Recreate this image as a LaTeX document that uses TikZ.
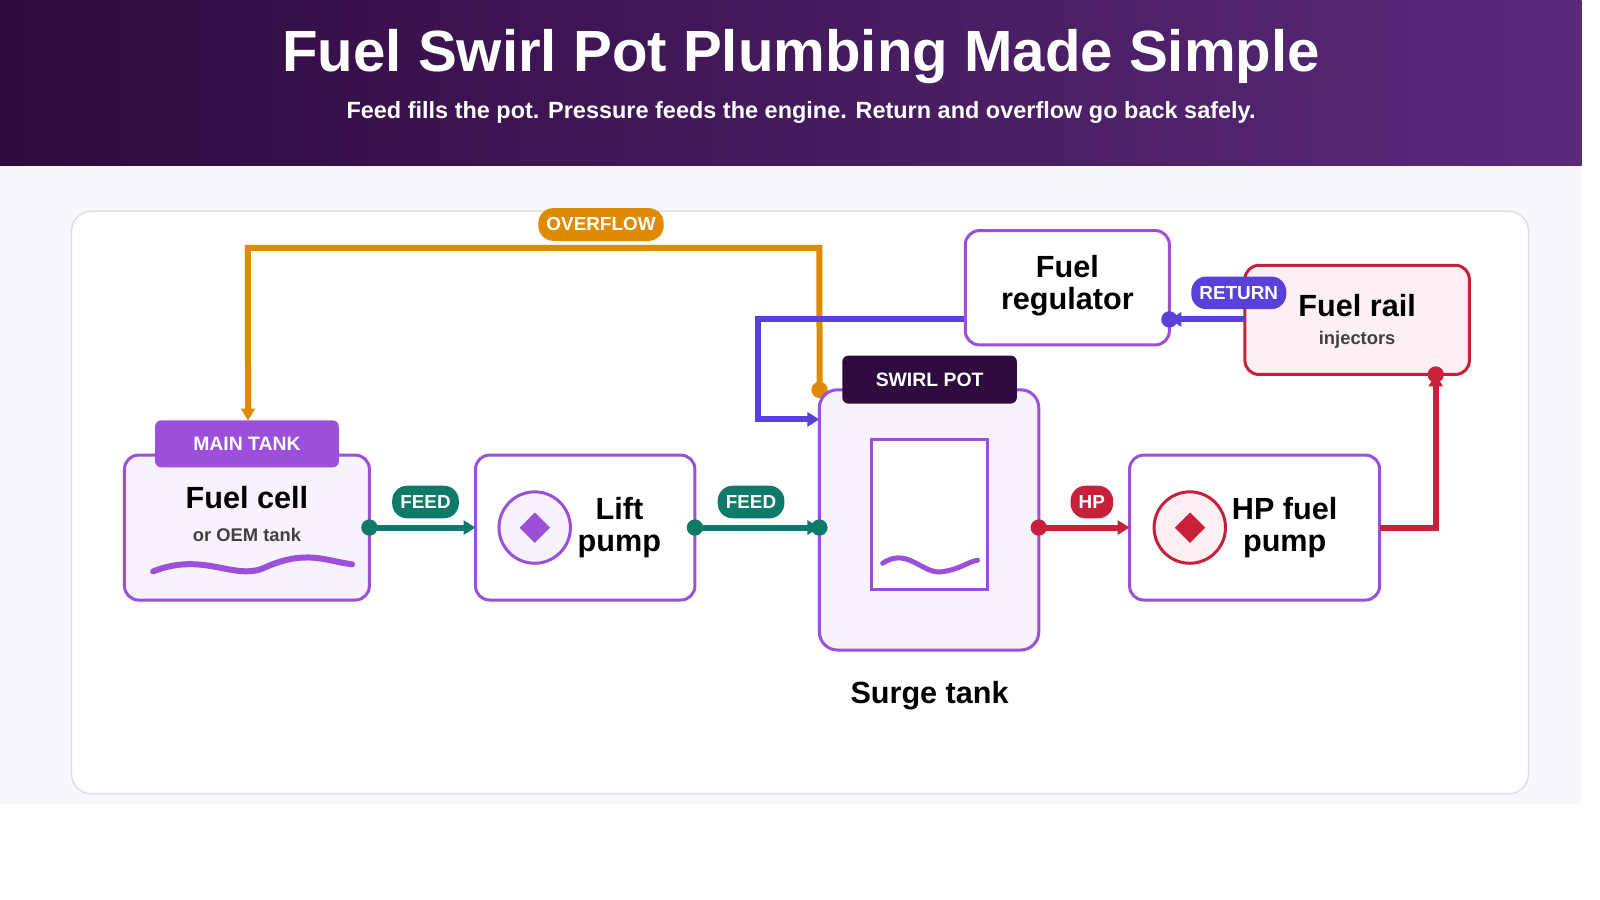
\documentclass[tikz,border=0pt]{standalone}
\usepackage{fontspec}
\setmainfont{Liberation Sans}
\usetikzlibrary{arrows.meta,shapes.geometric}
\definecolor{dpurp}{HTML}{2E0A3E}
\definecolor{rpurp}{HTML}{5A2A7A}
\definecolor{purp}{HTML}{9B4FDB}
\definecolor{lpurp}{HTML}{F7F2FD}
\definecolor{teal}{HTML}{0F7A6A}
\definecolor{hred}{HTML}{C8203A}
\definecolor{lred}{HTML}{FDF0F2}
\definecolor{blu}{HTML}{5B3FD9}
\definecolor{ora}{HTML}{E08A00}
\definecolor{bg}{HTML}{F8F7FB}
\begin{document}
\begin{tikzpicture}[x=1pt,y=-1pt,scale=1.0204,every node/.style={transform shape},
 box/.style={draw=purp,line width=3pt,rounded corners=14pt,fill=white},
 tag/.style={rounded corners=6pt,text=white,font=\bfseries\fontsize{19}{19}\selectfont,inner sep=0pt},
 pill/.style={rounded corners=15pt,text=white,font=\bfseries\fontsize{18.5}{18.5}\selectfont,minimum height=32pt,inner xsep=8pt,inner ysep=0pt},
 big/.style={font=\bfseries\fontsize{30}{32}\selectfont,align=center,text=black},
 small/.style={font=\bfseries\fontsize{18}{18}\selectfont,text=black!75},
 pipe/.style={line width=6pt},
 dot/.style={circle,inner sep=0pt,minimum size=16pt}]
\useasboundingbox (0,0) rectangle (1568,882);
\fill[white] (0,0) rectangle (1568,882);
\fill[bg] (0,162) rectangle (1550,788);
\shade[left color=dpurp,right color=rpurp] (0,0) rectangle (1550,162);
\node[text=white,font=\bfseries\fontsize{57}{57}\selectfont] (title) at (785,55) {Fuel Swirl Pot Plumbing Made Simple};
\node[text=white,font=\bfseries\fontsize{23}{23}\selectfont] (sub) at (785,110) {Feed fills the pot. Pressure feeds the engine. Return and overflow go back safely.};
\draw[black!12,line width=1.5pt,fill=white,rounded corners=20pt] (70,207) rectangle (1498,778);
\coordinate (ovs) at (803,382);
\coordinate (ove) at (243,412);
\draw[ora,pipe,-{Triangle[length=12pt,width=14pt]}] (ovs) -- (803,243) -- (243,243) -- (ove);
\node[dot,fill=ora] at (ovs) {};
\node[pill,fill=ora] (ovl) at (589,220) {OVERFLOW};
\draw[blu,pipe,-{Triangle[length=12pt,width=14pt]}] (946,313) -- (743,313) -- (743,411) -- (803,411);
\draw[box,fill=lpurp] (122,446) rectangle (362,588);
\node[tag,fill=purp,minimum width=180pt,minimum height=46pt] (mt) at (242,435) {MAIN TANK};
\node[big] (fc) at (242,488) {Fuel cell};
\node[small] (oem) at (242,524) {or OEM tank};
\draw[purp,line width=6pt,line cap=round] (150,560) .. controls (200,540) and (230,570) .. (260,556) .. controls (300,538) and (320,550) .. (345,553);
\draw[box] (466,446) rectangle (681,588);
\node[circle,draw=purp,line width=3pt,fill=lpurp,minimum size=70pt] (lc) at (524,517) {};
\node[diamond,fill=purp,minimum size=30pt,inner sep=0pt] at (lc) {};
\node[big] (lp) at (607,517) {Lift\\pump};
\draw[box,fill=lpurp,rounded corners=18pt] (803,382) rectangle (1018,637);
\node[tag,fill=dpurp,minimum width=171pt,minimum height=47pt] (sp) at (911,372) {SWIRL POT};
\draw[purp,line width=3pt,fill=white] (854,431) rectangle (968,578);
\draw[purp,line width=5pt,line cap=round] (865,552) .. controls (890,535) and (905,565) .. (925,560) .. controls (940,558) and (950,550) .. (958,549);
\node[big] (st) at (911,682) {Surge tank};
\draw[box] (1107,446) rectangle (1352,588);
\node[circle,draw=hred,line width=3pt,fill=lred,minimum size=70pt] (hc) at (1166,517) {};
\node[diamond,fill=hred,minimum size=30pt,inner sep=0pt] at (hc) {};
\node[big] (hp) at (1259,517) {HP fuel\\pump};
\draw[box] (946,226) rectangle (1146,338);
\node[big] (reg) at (1046,280) {Fuel\\regulator};
\draw[box,draw=hred,fill=lred] (1220,260) rectangle (1440,367);
\node[big] (fr) at (1330,299) {Fuel rail};
\node[small] (inj) at (1330,333) {injectors};
\draw[teal,pipe,-{Triangle[length=12pt,width=14pt]}] (362,517) -- (466,517);
\node[dot,fill=teal] at (362,517) {};
\node[pill,fill=teal] (f1) at (417,492) {FEED};
\draw[teal,pipe,-{Triangle[length=12pt,width=14pt]}] (681,517) -- (803,517);
\node[dot,fill=teal] at (681,517) {};
\node[dot,fill=teal] at (803,517) {};
\node[pill,fill=teal] (f2) at (736,492) {FEED};
\draw[hred,pipe,-{Triangle[length=12pt,width=14pt]}] (1018,517) -- (1107,517);
\node[dot,fill=hred] at (1018,517) {};
\node[pill,fill=hred] (hpl) at (1070,492) {HP};
\draw[hred,pipe,-{Triangle[length=12pt,width=14pt]}] (1352,517) -- (1407,517) -- (1407,367);
\node[dot,fill=hred] at (1407,367) {};
\draw[blu,pipe,-{Triangle[length=12pt,width=14pt]}] (1220,313) -- (1146,313);
\node[dot,fill=blu] at (1146,313) {};
\node[pill,fill=blu] (ret) at (1214,287) {RETURN};
\end{tikzpicture}
\end{document}
